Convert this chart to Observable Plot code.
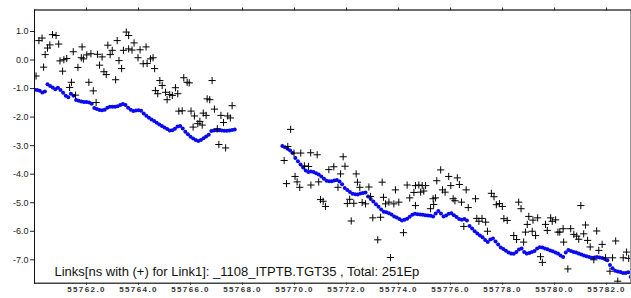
<!DOCTYPE html>
<html><head><meta charset="utf-8">
<script src="https://cdn.jsdelivr.net/npm/d3@7"></script>
<script src="https://cdn.jsdelivr.net/npm/@observablehq/plot@0.6"></script>
<style>
html,body{margin:0;padding:0;background:#fff;}
#chart svg{display:block;}
</style>
</head><body><div id="chart"></div>
<script>
// ---- data ----
const caption = "Links[ns with (+) for Link1]: _1108_ITPTB.TGT35 , Total: 251Ep";
const xTicks = [55762,55764,55766,55768,55770,55772,55774,55776,55778,55780,55782];
const yTicks = [1,0,-1,-2,-3,-4,-5,-6,-7];

// blue series: epochs sampled every 0.1 d, two arcs
const blueStep = 0.1;
const blueStart1 = 55760.0;
const blueVals1 = [
-1.04,-1.05,-1.08,-1.14,-1.10,-0.85,-0.91,-0.96,-1.02,-0.97,
-1.05,-1.15,-1.25,-1.30,-1.18,-1.25,-1.40,-1.43,-1.45,-1.47,
-1.47,-1.49,-1.53,-1.68,-1.72,-1.75,-1.76,-1.74,-1.67,-1.64,
-1.64,-1.64,-1.62,-1.58,-1.54,-1.58,-1.67,-1.74,-1.79,-1.77,
-1.76,-1.78,-1.87,-1.95,-2.02,-2.08,-2.14,-2.20,-2.26,-2.31,
-2.36,-2.42,-2.47,-2.46,-2.41,-2.33,-2.31,-2.40,-2.51,-2.60,
-2.69,-2.75,-2.80,-2.84,-2.80,-2.74,-2.68,-2.62,-2.49,-2.47,
-2.46,-2.46,-2.47,-2.48,-2.48,-2.47,-2.45,-2.43];
const blueStart2 = 55769.53;
const blueVals2 = [
-3.01,-3.06,-3.11,-3.17,-3.26,-3.43,-3.55,-3.66,-3.77,-3.87,
-3.92,-3.91,-3.92,-3.97,-4.01,-4.08,-4.16,-4.23,-4.25,-4.25,
-4.22,-4.20,-4.26,-4.35,-4.48,-4.55,-4.62,-4.69,-4.70,-4.71,
-4.68,-4.66,-4.64,-4.78,-4.87,-4.96,-5.05,-5.14,-5.24,-5.32,
-5.33,-5.37,-5.41,-5.48,-5.52,-5.57,-5.62,-5.60,-5.56,-5.49,
-5.42,-5.39,-5.40,-5.41,-5.42,-5.44,-5.45,-5.46,-5.48,-5.38,
-5.29,-5.38,-5.48,-5.45,-5.39,-5.37,-5.44,-5.50,-5.57,-5.60,
-5.57,-5.62,-5.82,-5.90,-6.00,-6.08,-6.15,-6.21,-6.31,-6.38,
-6.29,-6.25,-6.36,-6.46,-6.57,-6.62,-6.68,-6.74,-6.78,-6.79,
-6.73,-6.64,-6.60,-6.73,-6.78,-6.76,-6.73,-6.69,-6.60,-6.56,
-6.57,-6.60,-6.63,-6.67,-6.70,-6.74,-6.78,-6.85,-6.90,-6.74,
-6.66,-6.69,-6.73,-6.74,-6.78,-6.81,-6.85,-6.88,-6.90,-6.93,
-6.92,-6.90,-6.92,-6.94,-6.97,-7.02,-7.18,-7.30,-7.38,-7.41,
-7.43,-7.46,-7.46,-7.44,-7.60];

// black (+) series
const crossT = [
55760.06,55760.17,55760.29,55760.35,55760.41,55760.50,55760.59,55760.69,55760.83,55760.93,
55760.98,55761.08,55761.13,55761.24,55761.35,55761.42,55761.49,55761.58,55761.67,55761.80,
55761.83,55761.88,55762.01,55762.09,55762.17,55762.26,55762.37,55762.42,55762.50,55762.60,
55762.67,55762.76,55762.82,55762.91,55762.99,55763.12,55763.18,55763.25,55763.35,55763.42,
55763.53,55763.62,55763.62,55763.75,55763.83,55763.98,55764.06,55764.18,55764.29,55764.33,
55764.46,55764.56,55764.62,55764.82,55764.91,55764.65,55764.74,55765.04,55765.20,55765.30,
55765.51,55765.10,55765.42,55765.74,55765.87,55765.95,55766.83,55766.64,55766.74,55767.60,
55766.92,55765.55,55765.68,55766.02,55766.15,55766.49,55766.60,55767.17,55767.43,55767.53,
55767.27,55766.36,55766.28,55766.45,55766.10,55767.03,55767.09,55767.35,
55769.85,55769.74,55769.60,55769.69,55769.98,55770.24,55770.62,55770.87,55770.02,55770.10,
55770.20,55770.38,55770.54,55770.63,55770.93,55771.00,55771.10,55771.19,55771.32,55771.51,
55771.77,55771.87,55771.94,55771.67,55772.03,55772.12,55772.28,55772.18,55772.37,55772.42,
55772.51,55772.60,55772.73,55772.86,55772.92,55773.01,55773.20,55773.31,55773.37,55773.42,
55773.63,55773.50,55773.69,55773.88,55773.82,55774.01,55774.19,55774.33,55774.43,55774.59,
55774.65,55774.78,55774.91,55775.04,55774.85,55774.97,55774.65,55775.23,55775.35,55775.33,
55775.42,55775.47,55775.62,55775.69,55775.79,55775.93,55776.01,55776.26,55776.34,55776.10,
55776.17,55776.42,55776.60,55776.68,55776.96,55776.51,55777.01,55777.09,55777.21,55777.35,
55777.42,55777.57,55777.67,55777.76,55777.88,55777.99,55778.05,55778.18,55778.43,55778.54,
55778.62,55778.71,55778.81,55779.01,55779.17,55779.35,55778.95,55778.88,55779.14,55779.27,
55779.46,55779.53,55779.65,55779.72,55779.85,55779.91,55780.04,55780.13,55780.20,55780.35,
55780.33,55780.51,55780.62,55780.74,55780.85,55780.93,55781.01,55781.19,55781.12,55781.27,
55781.37,55781.62,55781.51,55781.70,55781.83,55781.96,55782.13,55782.23,55782.35,55782.43,
55782.64,55782.77,55782.85];
const crossV = [
-0.56,0.68,0.77,-0.25,0.19,0.42,0.53,0.89,0.86,0.56,
-0.03,-0.39,0.01,0.05,-0.96,-0.78,0.29,-1.23,-0.26,0.08,
0.46,0.04,0.18,-0.78,0.22,-1.08,-1.49,0.20,-0.18,0.11,
-0.41,-0.51,0.52,0.19,0.34,-0.69,0.68,-0.02,-0.30,0.34,
0.98,0.86,0.39,0.35,0.60,0.08,0.36,-0.13,0.46,-0.12,
0.04,0.08,-0.30,-0.72,-0.89,-1.07,-1.18,-1.13,-1.21,-1.24,
-1.18,-1.39,-0.97,-0.62,-0.78,-0.80,-0.72,-1.36,-1.39,-1.60,
-1.72,-1.79,-1.78,-1.79,-1.96,-1.86,-1.94,-1.94,-1.96,-2.03,
-2.19,-2.15,-2.23,-2.28,-2.35,-2.41,-2.96,-3.08,
-2.43,-3.03,-3.52,-4.33,-3.26,-3.26,-3.25,-3.32,-4.08,-4.27,
-4.46,-3.71,-3.73,-4.38,-4.27,-4.89,-4.95,-5.13,-3.84,-3.74,
-3.99,-3.39,-3.72,-4.46,-5.03,-4.88,-5.02,-5.64,-3.99,-4.28,
-4.46,-4.99,-5.04,-4.45,-4.78,-5.53,-6.30,-5.51,-4.28,-4.81,
-4.98,-5.04,-6.92,-4.55,-5.04,-4.98,-6.05,-4.38,-4.83,-4.64,
-4.40,-4.38,-4.40,-4.40,-4.63,-4.59,-5.10,-5.21,-5.06,-4.86,
-4.83,-4.23,-3.85,-4.55,-4.63,-4.08,-4.40,-4.13,-4.36,-4.86,
-4.93,-4.98,-4.55,-5.17,-4.86,-5.83,-5.55,-5.65,-5.55,-5.68,
-6.00,-4.67,-4.79,-5.07,-5.03,-5.13,-5.56,-5.62,-6.15,-6.29,
-4.98,-5.21,-6.38,-5.48,-5.61,-5.53,-5.76,-6.03,-6.00,-6.15,
-6.89,-7.09,-5.76,-5.97,-5.53,-5.65,-5.60,-6.03,-6.03,-6.38,
-5.91,-7.32,-5.91,-6.11,-6.17,-6.28,-5.10,-5.78,-6.09,-6.32,
-6.55,-5.99,-7.00,-6.67,-6.46,-6.93,-7.40,-6.93,-6.34,-7.75,
-6.93,-6.73,-6.95];

// ---- build tables ----
const blue = [
  ...blueVals1.map((v, i) => ({t: blueStart1 + i * blueStep, v})),
  ...blueVals2.map((v, i) => ({t: blueStart2 + i * blueStep, v}))
];
const crosses = crossT.map((t, i) => ({t, v: crossV[i]}));

const plusSymbol = {
  draw(ctx, size) {
    const r = Math.sqrt(size / Math.PI);
    ctx.moveTo(-r, 0); ctx.lineTo(r, 0);
    ctx.moveTo(0, -r); ctx.lineTo(0, r);
  }
};

const font = "'Liberation Sans', Arial, Helvetica, sans-serif";
const fmt = d => d.toFixed(1);

const chart = Plot.plot({
  width: 631,
  height: 298,
  marginLeft: 34,
  marginRight: 1,
  marginTop: 9.5,
  marginBottom: 15.3,
  style: {fontFamily: font, background: "#fff", color: "#222"},
  x: {domain: [55760, 55782.92]},
  y: {domain: [-7.82, 1.753]},
  marks: [
    Plot.dot(blue, {x: "t", y: "v", r: 2, fill: "#0a0af2", stroke: "none", clip: true}),
    Plot.dot(crosses, {x: "t", y: "v", r: 3.6, symbol: plusSymbol, stroke: "#000", strokeWidth: 1, fill: "none", clip: true}),
    Plot.text([caption], {frameAnchor: "bottom-left", dx: 20, dy: -7, fontSize: 13, textAnchor: "start", fill: "#111"}),
    Plot.frame({stroke: "#999"}),
    Plot.frame({anchor: "left", stroke: "#111"}),
    Plot.frame({anchor: "top", stroke: "#111"}),
    Plot.frame({anchor: "bottom", stroke: "#111"}),
    Plot.axisY({ticks: yTicks, tickFormat: fmt, tickSize: 4, tickPadding: 2, fontSize: 9, label: null, stroke: "#222"}),
    Plot.axisX({ticks: xTicks, tickFormat: fmt, tickSize: 2, tickPadding: 1, fontSize: 8, fontWeight: "bold", label: null, fill: "#333"}),
    Plot.axisX({anchor: "top", ticks: xTicks, tickFormat: () => "", tickSize: 3, label: null})
  ]
});
document.getElementById("chart").appendChild(chart);
d3.select(chart).selectAll('g[aria-label="x-axis tick label"] text').style("letter-spacing", "1.4px");
</script>
</body></html>
